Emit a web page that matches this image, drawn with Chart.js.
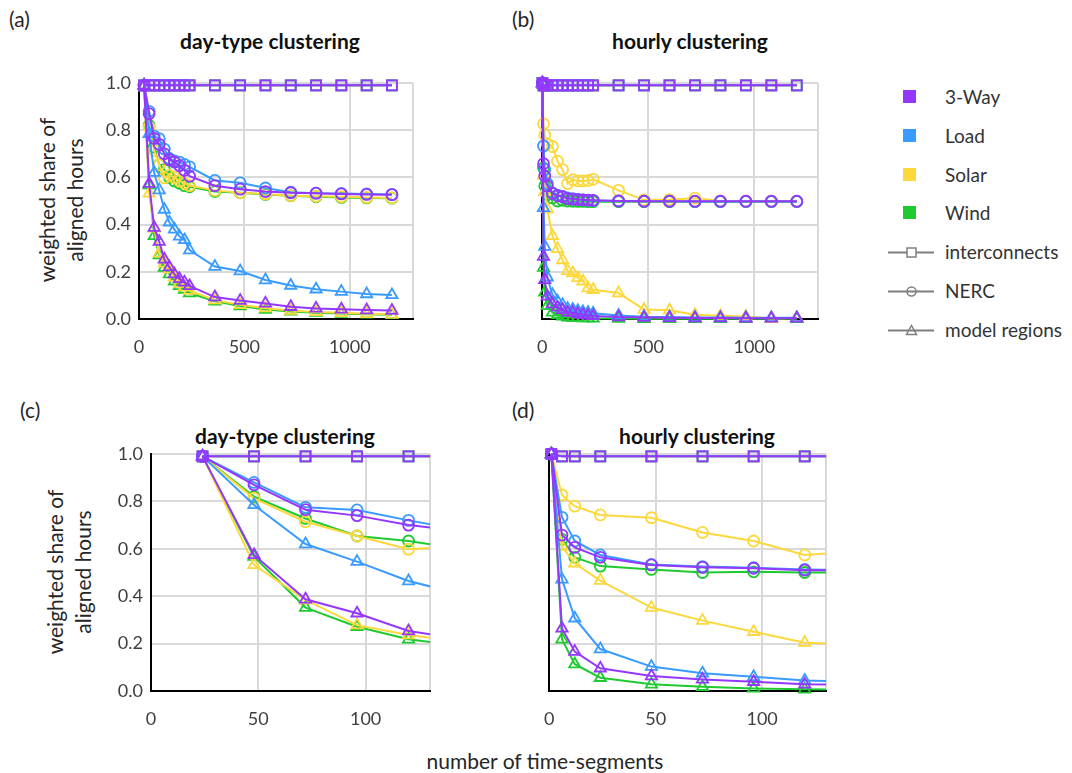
<!DOCTYPE html>
<html>
<head>
<meta charset="utf-8">
<script src="https://cdn.jsdelivr.net/npm/chart.js@4"></script>
<style>
  body { margin: 0; width: 1072px; height: 773px; background: #fff; position: relative; overflow: hidden; font-family: Lato, "Open Sans", sans-serif; color: #262626; }
  canvas { position: absolute; }
  .lbl { position: absolute; font-size: 21px; }
  .ttl { position: absolute; width: 300px; text-align: center; font-size: 21px; font-weight: bold; color: #111; }
  .ytl { position: absolute; font-size: 21px; line-height: 28px; text-align: center; white-space: nowrap; color: #262626;
         transform: translate(-50%, -50%) rotate(-90deg); }
  .leg { position: absolute; left: 888px; height: 24px; font-size: 19px; color: #333; }
  .leg span { position: absolute; left: 57px; top: 0; white-space: nowrap; line-height: 24px; }
  .sw { position: absolute; left: 15px; top: 5px; width: 13px; height: 13px; }
  .leg svg { position: absolute; left: 0; top: 2px; }
</style>
</head>
<body>

<div class="lbl" style="left:9px;top:6px">(a)</div>
<div class="lbl" style="left:512px;top:6px">(b)</div>
<div class="lbl" style="left:20px;top:397px">(c)</div>
<div class="lbl" style="left:512px;top:397px">(d)</div>

<div class="ttl" style="left:120px;top:28px">day-type clustering</div>
<div class="ttl" style="left:540px;top:28px">hourly clustering</div>
<div class="ttl" style="left:135px;top:423px">day-type clustering</div>
<div class="ttl" style="left:547px;top:423px">hourly clustering</div>

<div class="ytl" style="left:61px;top:200px">weighted share of<br>aligned hours</div>
<div class="ytl" style="left:69px;top:572px">weighted share of<br>aligned hours</div>

<div style="position:absolute;left:380px;top:748px;width:330px;text-align:center;font-size:21px;color:#262626">number of time-segments</div>

<div id="legend"></div>

<canvas id="chartA" width="350" height="291" style="left:80px;top:64px"></canvas>
<canvas id="chartB" width="315" height="291" style="left:520px;top:64px"></canvas>
<canvas id="chartC" width="357" height="291" style="left:90px;top:435px"></canvas>
<canvas id="chartD" width="316" height="291" style="left:527px;top:435px"></canvas>

<script>
// 分组与区域
const seriesNames = ['3-Way', 'Load', 'Solar', 'Wind'];
const regionNames = ['interconnects', 'NERC', 'model regions'];
const colors = ['#9437ff', '#399bff', '#fcd83c', '#1fca30'];

// 坐标轴刻度
const yTicks = [0, 0.2, 0.4, 0.6, 0.8, 1.0];
const xTicksWide = [0, 500, 1000];
const xTicksNarrow = [0, 50, 100];

// day-type 聚类的时间段数
const xDay = [24, 48, 72, 96, 120, 144, 168, 192, 216, 240, 360, 480, 600, 720, 840, 960, 1080, 1200];

const day3WayIc  = [0.99, 0.99, 0.99, 0.99, 0.99, 0.99, 0.99, 0.99, 0.99, 0.99, 0.99, 0.99, 0.99, 0.99, 0.99, 0.99, 0.99, 0.99];
const dayLoadIc  = [0.99, 0.99, 0.99, 0.99, 0.99, 0.99, 0.99, 0.99, 0.99, 0.99, 0.99, 0.99, 0.99, 0.99, 0.99, 0.99, 0.99, 0.99];
const daySolarIc = [0.99, 0.99, 0.99, 0.99, 0.99, 0.99, 0.99, 0.99, 0.99, 0.99, 0.99, 0.99, 0.99, 0.99, 0.99, 0.99, 0.99, 0.99];
const dayWindIc  = [0.99, 0.99, 0.99, 0.99, 0.99, 0.99, 0.99, 0.99, 0.99, 0.99, 0.99, 0.99, 0.99, 0.99, 0.99, 0.99, 0.99, 0.99];

const day3WayNerc  = [0.99, 0.87, 0.765, 0.74, 0.70, 0.675, 0.665, 0.65, 0.63, 0.605, 0.565, 0.55, 0.54, 0.535, 0.533, 0.53, 0.528, 0.527];
const dayLoadNerc  = [0.99, 0.88, 0.775, 0.764, 0.72, 0.68, 0.67, 0.665, 0.655, 0.645, 0.587, 0.577, 0.555, 0.537, 0.533, 0.532, 0.53, 0.528];
const daySolarNerc = [0.99, 0.813, 0.714, 0.654, 0.598, 0.61, 0.60, 0.585, 0.575, 0.565, 0.545, 0.535, 0.53, 0.522, 0.52, 0.518, 0.515, 0.513];
const dayWindNerc  = [0.99, 0.82, 0.728, 0.654, 0.633, 0.60, 0.585, 0.575, 0.565, 0.56, 0.54, 0.535, 0.528, 0.522, 0.518, 0.515, 0.513, 0.512];

const day3WayReg  = [0.99, 0.574, 0.387, 0.328, 0.253, 0.22, 0.19, 0.17, 0.155, 0.14, 0.093, 0.078, 0.066, 0.052, 0.045, 0.041, 0.038, 0.036];
const dayLoadReg  = [0.99, 0.785, 0.62, 0.546, 0.464, 0.41, 0.38, 0.35, 0.335, 0.292, 0.222, 0.203, 0.165, 0.142, 0.126, 0.116, 0.106, 0.102];
const daySolarReg = [0.99, 0.532, 0.384, 0.278, 0.236, 0.21, 0.175, 0.15, 0.135, 0.12, 0.08, 0.06, 0.046, 0.036, 0.03, 0.026, 0.022, 0.02];
const dayWindReg  = [0.99, 0.567, 0.352, 0.271, 0.218, 0.19, 0.16, 0.14, 0.125, 0.11, 0.075, 0.055, 0.04, 0.032, 0.027, 0.023, 0.02, 0.018];

// hourly 聚类的时间段数
const xHour = [1, 6, 12, 24, 48, 72, 96, 120, 144, 168, 192, 216, 240, 360, 480, 600, 720, 840, 960, 1080, 1200];

const hour3WayIc  = [1.0, 0.99, 0.99, 0.99, 0.99, 0.99, 0.99, 0.99, 0.99, 0.99, 0.99, 0.99, 0.99, 0.99, 0.99, 0.99, 0.99, 0.99, 0.99, 0.99, 0.99];
const hourLoadIc  = [1.0, 0.99, 0.99, 0.99, 0.99, 0.99, 0.99, 0.99, 0.99, 0.99, 0.99, 0.99, 0.99, 0.99, 0.99, 0.99, 0.99, 0.99, 0.99, 0.99, 0.99];
const hourSolarIc = [1.0, 0.99, 0.99, 0.99, 0.99, 0.99, 0.99, 0.99, 0.99, 0.99, 0.99, 0.99, 0.99, 0.99, 0.99, 0.99, 0.99, 0.99, 0.99, 0.99, 0.99];
const hourWindIc  = [1.0, 0.99, 0.99, 0.99, 0.99, 0.99, 0.99, 0.99, 0.99, 0.99, 0.99, 0.99, 0.99, 0.99, 0.99, 0.99, 0.99, 0.99, 0.99, 0.99, 0.99];

const hour3WayNerc  = [1.0, 0.658, 0.606, 0.564, 0.532, 0.522, 0.518, 0.51, 0.508, 0.506, 0.505, 0.504, 0.503, 0.50, 0.499, 0.499, 0.499, 0.499, 0.499, 0.499, 0.499];
const hourLoadNerc  = [1.0, 0.733, 0.633, 0.574, 0.534, 0.525, 0.52, 0.513, 0.51, 0.507, 0.505, 0.503, 0.502, 0.50, 0.499, 0.499, 0.498, 0.498, 0.498, 0.498, 0.498];
const hourSolarNerc = [1.0, 0.827, 0.78, 0.743, 0.731, 0.669, 0.633, 0.574, 0.59, 0.585, 0.585, 0.587, 0.592, 0.545, 0.505, 0.506, 0.512, 0.50, 0.499, 0.499, 0.499];
const hourWindNerc  = [1.0, 0.64, 0.564, 0.527, 0.513, 0.50, 0.503, 0.50, 0.499, 0.498, 0.498, 0.497, 0.497, 0.497, 0.497, 0.497, 0.497, 0.497, 0.497, 0.497, 0.497];

const hour3WayReg  = [1.0, 0.264, 0.166, 0.096, 0.063, 0.049, 0.039, 0.028, 0.027, 0.022, 0.018, 0.015, 0.013, 0.008, 0.006, 0.005, 0.004, 0.004, 0.003, 0.003, 0.003];
const hourLoadReg  = [1.0, 0.471, 0.307, 0.177, 0.103, 0.075, 0.06, 0.044, 0.04, 0.035, 0.03, 0.027, 0.024, 0.015, 0.01, 0.008, 0.006, 0.006, 0.005, 0.005, 0.005];
const hourSolarReg = [1.0, 0.609, 0.539, 0.466, 0.352, 0.297, 0.25, 0.204, 0.195, 0.174, 0.16, 0.131, 0.124, 0.11, 0.04, 0.037, 0.018, 0.014, 0.011, 0.002, 0.005];
const hourWindReg  = [1.0, 0.218, 0.113, 0.056, 0.028, 0.018, 0.011, 0.007, 0.006, 0.005, 0.004, 0.004, 0.003, 0.002, 0.001, 0.001, 0.001, 0.001, 0.001, 0.001, 0.001];

const pointStyles = ['rect', 'circle', 'triangle'];
const pointSizes = [7, 5.5, 6.5];

// 组装数据集（3-Way 放在最前，画在最上层）
function buildDatasets(xs, groups) {
    const sets = [];
    groups.forEach((regions, c) => {
        regions.forEach((vals, r) => {
            sets.push({
                label: seriesNames[c] + ' ' + regionNames[r],
                data: vals.map((v, i) => ({ x: xs[i], y: v })),
                borderColor: colors[c],
                backgroundColor: colors[c],
                borderWidth: 2,
                pointStyle: pointStyles[r],
                pointRadius: pointSizes[r],
                pointBorderWidth: 1.8,
                pointBackgroundColor: 'rgba(255,255,255,0)',
                pointBorderColor: colors[c],
                tension: 0,
                clip: { left: 10, top: 10, right: 0, bottom: 10 }
            });
        });
    });
    return sets;
}

const dayGroups = [
    [day3WayIc, day3WayNerc, day3WayReg],
    [dayLoadIc, dayLoadNerc, dayLoadReg],
    [daySolarIc, daySolarNerc, daySolarReg],
    [dayWindIc, dayWindNerc, dayWindReg]
];
const hourGroups = [
    [hour3WayIc, hour3WayNerc, hour3WayReg],
    [hourLoadIc, hourLoadNerc, hourLoadReg],
    [hourSolarIc, hourSolarNerc, hourSolarReg],
    [hourWindIc, hourWindNerc, hourWindReg]
];

function makePanel(id, xs, groups, xMax, xTicks, showY, yWidth, xHeight) {
    const gridOpts = { color: '#d9d9d9', lineWidth: 2, drawTicks: false };
    const borderOpts = { color: '#000', width: 2 };
    return new Chart(document.getElementById(id), {
        type: 'line',
        data: { datasets: buildDatasets(xs, groups) },
        options: {
            responsive: false,
            animation: false,
            layout: { padding: { top: 19, right: 5, left: 0, bottom: 0 } },
            plugins: { legend: { display: false }, tooltip: { enabled: false } },
            scales: {
                x: {
                    type: 'linear',
                    min: 0,
                    max: xMax,
                    afterBuildTicks: s => { s.ticks = xTicks.concat([xMax]).map(v => ({ value: v })); },
                    afterFit: s => { s.height = xHeight; },
                    ticks: {
                        autoSkip: false, maxRotation: 0, padding: 17, color: '#404040',
                        font: { size: 18, family: 'Lato' },
                        callback: v => xTicks.includes(v) ? String(v) : ''
                    },
                    grid: gridOpts,
                    border: borderOpts
                },
                y: {
                    type: 'linear',
                    min: 0,
                    max: 1,
                    afterBuildTicks: s => { s.ticks = yTicks.map(v => ({ value: v })); },
                    afterFit: s => { s.width = yWidth; },
                    ticks: {
                        display: showY, padding: 8, color: '#404040',
                        font: { size: 18, family: 'Lato' },
                        callback: v => v.toFixed(1)
                    },
                    grid: gridOpts,
                    border: borderOpts
                }
            }
        }
    });
}

makePanel('chartA', xDay, dayGroups, 1300, xTicksWide, true, 59, 36);
makePanel('chartB', xHour, hourGroups, 1300, xTicksWide, false, 14, 36);
makePanel('chartC', xDay, dayGroups, 130, xTicksNarrow, true, 61, 35);
makePanel('chartD', xHour, hourGroups, 130, xTicksNarrow, false, 14, 35);

// 图例
const legendRows = [97, 136, 175, 213, 252, 291, 330];
let html = '';
seriesNames.forEach((name, i) => {
    html += '<div class="leg" style="top:' + (legendRows[i] - 12) + 'px"><div class="sw" style="background:' + colors[i] + '"></div><span>' + name + '</span></div>';
});
const symbols = [
    '<rect x="19" y="6" width="9" height="9" fill="#fff" stroke="#7f7f7f" stroke-width="1.5"/>',
    '<circle cx="23.5" cy="10.5" r="4.5" fill="none" stroke="#7f7f7f" stroke-width="1.5"/>',
    '<polygon points="23.5,5.5 28.5,14.5 18.5,14.5" fill="none" stroke="#7f7f7f" stroke-width="1.5"/>'
];
regionNames.forEach((name, i) => {
    html += '<div class="leg" style="top:' + (legendRows[i + 4] - 12) + 'px"><svg width="48" height="21">' +
        '<line x1="0" y1="10.5" x2="46" y2="10.5" stroke="#7f7f7f" stroke-width="1.8"/>' + symbols[i] +
        '</svg><span>' + name + '</span></div>';
});
document.getElementById('legend').innerHTML = html;
</script>
</body>
</html>
